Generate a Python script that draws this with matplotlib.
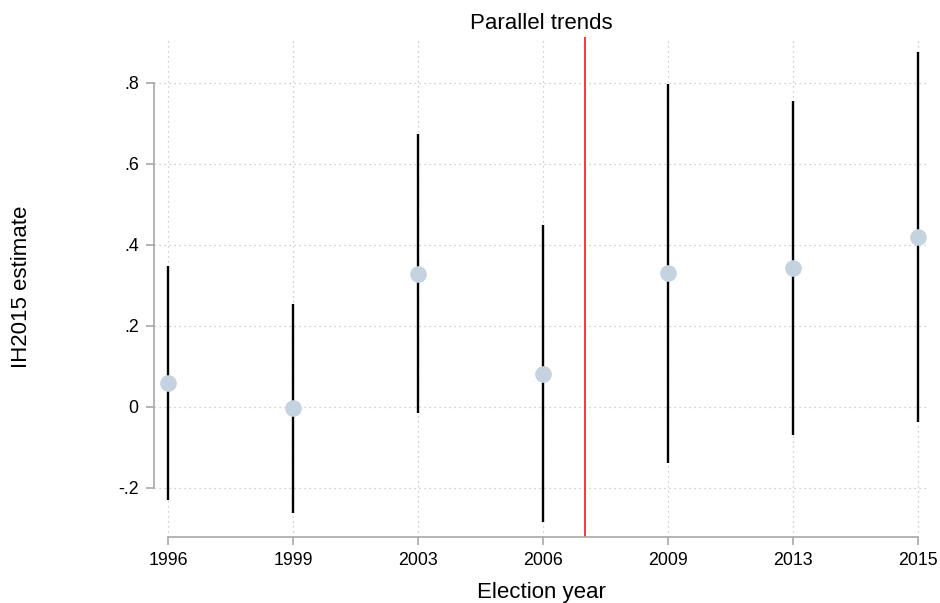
import numpy as np
import matplotlib
matplotlib.use("Agg")
import matplotlib.pyplot as plt

plt.rcParams['font.family'] = ['Liberation Sans', 'DejaVu Sans']

# estimates by election year
years = [1996, 1999, 2003, 2006, 2009, 2013, 2015]
estimate = [0.058, -0.004, 0.328, 0.081, 0.329, 0.342, 0.420]
ci_low = [-0.230, -0.263, -0.016, -0.286, -0.140, -0.070, -0.039]
ci_high = [0.348, 0.254, 0.673, 0.449, 0.798, 0.755, 0.877]
treat_year = 2007

yticks = [-0.2, 0, 0.2, 0.4, 0.6, 0.8]
ytick_labels = ["-.2", "0", ".2", ".4", ".6", ".8"]

pos = np.arange(len(years))
treat_pos = np.interp(treat_year, years, pos)

fig = plt.figure(figsize=(9.4, 6.03), dpi=100)
ax = fig.add_axes([154 / 940, 66 / 603, 774 / 940, 500 / 603])

grid_kw = dict(color="#c0c0c0", lw=0.9, ls=(0, (1, 3)), zorder=0)
for p in pos:
    ax.axvline(p, **grid_kw)
for y in yticks:
    ax.axhline(y, **grid_kw)

ax.vlines(pos, ci_low, ci_high, color="black", lw=1.7, zorder=2)
ax.plot(pos, estimate, "o", ms=12, color="#c5d2df", mec="none", zorder=3)
ax.axvline(treat_pos, color="red", lw=1.1, zorder=2)

ax.set_xlim(-0.112, 6.08)
ax.set_ylim(-0.322, 0.913)
ax.set_xticks(pos)
ax.set_xticklabels([str(y) for y in years], fontsize=12.8)
ax.set_yticks(yticks)
ax.set_yticklabels(ytick_labels, fontsize=12.8)

for s in ["top", "right"]:
    ax.spines[s].set_visible(False)
ax.spines["left"].set_bounds(-0.2, 0.8)
ax.spines["bottom"].set_bounds(0, 6)
for s in ["left", "bottom"]:
    ax.spines[s].set_color("#a8a8a8")
    ax.spines[s].set_linewidth(1.2)
ax.tick_params(axis="both", direction="out", length=6, width=1.2, color="#a8a8a8", pad=5)

ax.set_xlabel("Election year", fontsize=16, labelpad=9)
ax.set_ylabel("IH2015 estimate", fontsize=16, labelpad=62)
ax.set_title("Parallel trends", fontsize=16, pad=6)

fig.savefig("out.png", dpi=100)
